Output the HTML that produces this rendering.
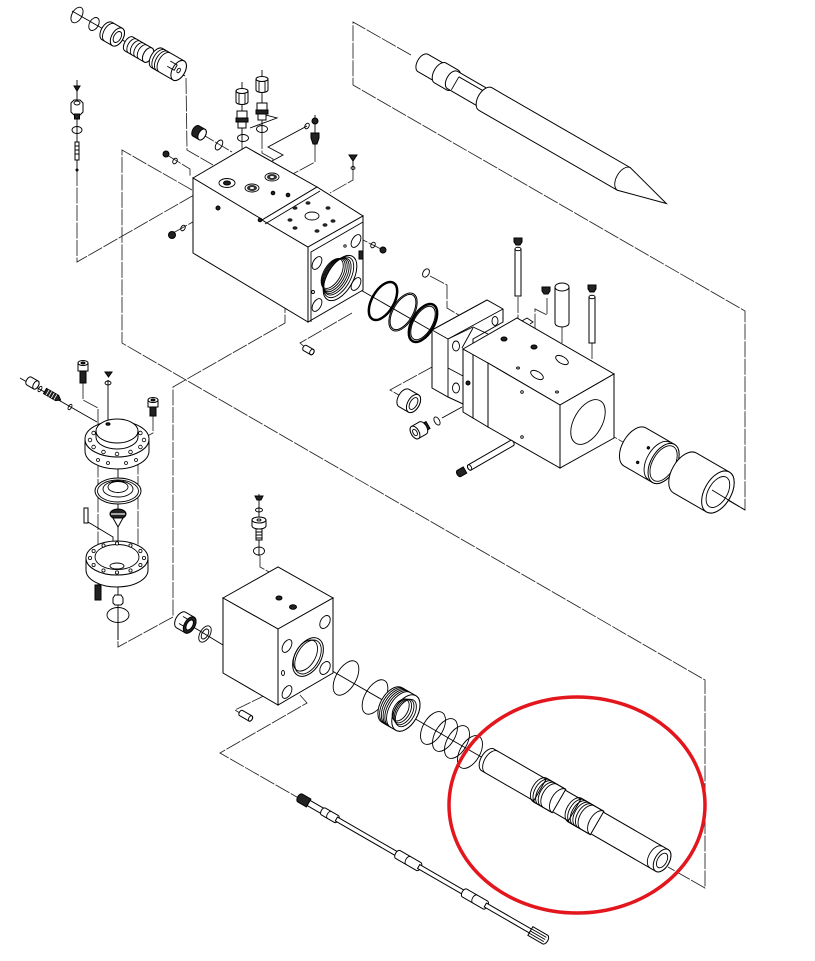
<!DOCTYPE html>
<html><head><meta charset="utf-8"><style>
html,body{margin:0;padding:0;background:#fff;width:815px;height:961px;overflow:hidden}
svg{display:block}
.s{fill:#fff;stroke:#000;stroke-width:1}
.d{fill:none;stroke:#222;stroke-width:0.85;stroke-dasharray:16 1.5}
.l{fill:none;stroke:#000;stroke-width:0.9}
.k{fill:#222;stroke:#000;stroke-width:1}
.r{fill:none;stroke:#000;stroke-width:2}
</style></head><body>
<svg width="815" height="961" viewBox="0 0 815 961" xmlns="http://www.w3.org/2000/svg">
<rect width="815" height="961" fill="#fff"/>

<!-- leader / frame lines -->
<polyline class="d" points="411,55 353,22 353,85 745,311 745,510 717,494"/>
<polyline class="d" points="186,78 187,150 213,165"/>
<polyline class="d" points="77,170 77,262 208,187"/>
<polyline class="d" points="192,190 122,150 122,343 705,680 705,888 668,867"/>
<polyline class="d" points="285,227 285,323 173,387 173,617 118,647 118,622"/>
<polyline class="d" points="352,313 300,343 308,350"/>
<polyline class="d" points="260,556 260,567 293,585 293,607"/>
<polyline class="d" points="282,687 235,710 243,715"/>
<polyline class="d" points="300,695 307,703 220,753 302,800"/>
<polyline class="d" points="463,350 390,390 404,398"/>
<polyline class="d" points="430,276 447,285 447,308 462,317"/>
<polyline class="d" points="518,297 518,368"/>
<polyline class="d" points="592,343 592,360 557,380 557,392"/>
<polyline class="d" points="547,298 547,315 535,309 535,347"/>
<polyline class="d" points="562,327 562,360"/>
<polyline class="d" points="522,392 517,395 517,440 522,437"/>
<line class="d" x1="588" y1="422" x2="635" y2="449"/>
<polyline class="d" points="242,143 242,163 253,170 253,182"/>
<polyline class="d" points="262,133 262,153 273,159 273,173"/>
<polyline class="d" points="315,146 315,162 278,182"/>
<polyline class="d" points="353,170 353,180 330,193"/>
<line class="d" x1="383" y1="250" x2="363" y2="240"/>
<polyline class="d" points="173,233 218,208 237,235 263,220"/>
<polyline class="d" points="200,133 232,152"/>
<polyline class="d" points="167,155 190,169 190,177"/>
<polyline class="l" points="307,126 268,147 283,155 272,161"/>
<polyline class="l" points="258,113 277,118 250,128"/>
<polyline class="l" points="20,378 97,422"/>
<polyline class="d" points="83,383 83,400 98,408 98,590"/>
<line class="l" x1="108" y1="380" x2="108" y2="423"/>
<polyline class="d" points="153,415 153,433 138,441 138,580"/>
<line class="l" x1="118" y1="455" x2="118" y2="640"/>
<polyline class="l" points="88,522 113,537 113,570"/>
<line class="l" x1="442" y1="418" x2="462" y2="407"/>
<line class="l" x1="190" y1="625" x2="223" y2="645"/>
<line class="l" x1="345" y1="281" x2="432" y2="331"/>
<line class="l" x1="308" y1="657" x2="490" y2="762"/>
<line class="l" x1="72" y1="11" x2="185" y2="76"/>
<line class="l" x1="77" y1="80" x2="77" y2="170"/>
<line class="l" x1="242" y1="82" x2="242" y2="143"/>
<line class="l" x1="262" y1="70" x2="262" y2="133"/>
<line class="l" x1="259" y1="494" x2="259" y2="556"/>
<line class="l" x1="315" y1="115" x2="315" y2="146"/>
<line class="l" x1="353" y1="155" x2="353" y2="170"/>

<!-- chisel -->
<g transform="translate(423,63) rotate(30)">
 <path class="s" d="M0,-10 H20 A5.8,10 0 0 1 20,10 H0 A5.8,10 0 0 1 0,-10 Z"/>
 <path class="s" d="M20,-11.5 H34 A6.6,11.5 0 0 1 34,11.5 H20 A6.6,11.5 0 0 1 20,-11.5 Z"/>
 <path class="s" d="M34,-10 H72 A5.8,10 0 0 1 72,10 H34 A5.8,10 0 0 1 34,-10 Z"/>
 <path class="l" d="M38,-6 V9 M38,-6 H72"/>
 <path class="s" d="M72,-13 H232 L281,0 L232,13 H72 A7.5,13 0 0 1 72,-13 Z"/>
 <path class="l" d="M232,-13 A7.5,13 0 0 0 232,13"/>
</g>

<!-- top-left fitting -->
<ellipse class="l" transform="translate(77,15) rotate(30)" rx="5" ry="8.5" stroke-width="1.7"/>
<ellipse class="l" transform="translate(94,24) rotate(30)" rx="4.5" ry="7" stroke-width="1.5"/>
<g transform="translate(107,31) rotate(30)">
 <path class="s" d="M0,-10 H12 A5.8,10 0 0 1 12,10 H0 A5.8,10 0 0 1 0,-10Z" stroke-width="1.4"/>
 <path class="l" d="M3,-10 A5.8,10 0 0 0 3,10" stroke-width="2"/>
 <ellipse class="s" cx="12" rx="5.8" ry="10" stroke-width="2"/>
 <ellipse class="l" cx="12" rx="3.5" ry="6"/>
</g>
<g transform="translate(129,44) rotate(30)">
 <path class="s" d="M0,-8 H22 A4.6,8 0 0 1 22,8 H0 A4.6,8 0 0 1 0,-8Z"/>
 <path class="l" d="M4,-8 A4.6,8 0 0 0 4,8 M8,-8 A4.6,8 0 0 0 8,8 M12,-8 A4.6,8 0 0 0 12,8 M16,-8 A4.6,8 0 0 0 16,8" stroke-width="1.3"/>
 <ellipse class="s" cx="22" rx="4.6" ry="8"/>
</g>
<g transform="translate(157,58) rotate(30)">
 <path class="s" d="M0,-11 H25 A6.3,11 0 0 1 25,11 H0 A6.3,11 0 0 1 0,-11Z" stroke-width="1.2"/>
 <path class="l" d="M3,-11 A6.3,11 0 0 0 3,11 M6,-11 A6.3,11 0 0 0 6,11 M9,-11 A6.3,11 0 0 0 9,11" stroke-width="1.6"/>
 <ellipse class="s" cx="25" rx="6.3" ry="11"/>
 <ellipse class="l" cx="25" rx="1.5" ry="2.5"/>
 <path class="l" d="M13,-4 H21 V2 H13"/>
</g>

<!-- left screw stack -->
<path class="k" d="M74,86 h6 l-3,5 z"/>
<path class="s" d="M71,103 L74,100 H80 L83,103 V112 L80,115 H74 L71,112 Z"/>
<ellipse class="l" cx="77" cy="103" rx="3" ry="2"/>
<rect class="k" x="74.5" y="114" width="5" height="5"/>
<ellipse class="l" cx="77" cy="130" rx="5" ry="3.5" stroke-width="1.4"/>
<rect class="s" x="75" y="142" width="4" height="18"/>
<path class="l" d="M75,146 h4 M75,150 h4 M75,154 h4"/>
<circle class="k" cx="77" cy="170" r="1"/>

<!-- upper fittings -->
<path class="s" d="M236,91 V102 A6,2.5 0 0 0 248,102 V91 Z"/>
<ellipse class="s" cx="242" cy="91" rx="6" ry="2.5"/>
<path class="l" d="M239,93 V104 M245,93 V104"/>
<path class="s" d="M256,79 V90 A6,2.5 0 0 0 268,90 V79 Z"/>
<ellipse class="s" cx="262" cy="79" rx="6" ry="2.5"/>
<path class="l" d="M259,81 V92 M265,81 V92"/>
<rect class="s" x="237" y="111" width="10" height="7"/>
<rect class="k" x="236" y="118" width="12" height="4"/>
<rect class="s" x="238" y="122" width="8" height="6"/>
<rect class="s" x="257" y="103" width="10" height="7"/>
<rect class="k" x="256" y="110" width="12" height="4"/>
<rect class="s" x="258" y="114" width="8" height="6"/>
<ellipse class="l" cx="243" cy="138" rx="5.5" ry="3.5" stroke-width="1.6"/>
<ellipse class="l" cx="262" cy="129" rx="5.5" ry="3.5" stroke-width="1.6"/>
<g transform="translate(196,131) rotate(30)">
 <path class="k" d="M0,-6 H7 A3.5,6 0 0 1 7,6 H0 A3.5,6 0 0 1 0,-6Z"/>
 <ellipse class="s" cx="7" rx="3.5" ry="6"/>
</g>
<ellipse class="l" transform="translate(219,145) rotate(30)" rx="3" ry="5.5" stroke-width="1.5"/>
<circle class="k" cx="166" cy="154" r="3"/>
<ellipse class="l" transform="translate(175,161) rotate(30)" rx="2" ry="3"/>
<circle class="k" cx="315" cy="121" r="3"/>
<ellipse class="l" transform="translate(307,126) rotate(30)" rx="2" ry="3"/>
<path class="k" d="M311,133 h8 v5 l-2,6 h-4 l-2,-6z"/>
<path class="k" d="M349,155 h8 l-4,6z"/>
<ellipse class="l" cx="353" cy="168" rx="2" ry="1.5"/>
<circle class="k" cx="383" cy="250" r="3"/>
<ellipse class="l" transform="translate(373,245) rotate(30)" rx="2" ry="3"/>
<circle class="k" cx="172" cy="235" r="3.5"/>
<ellipse class="l" transform="translate(183,228) rotate(30)" rx="2" ry="3"/>

<!-- upper block -->
<polygon class="s" points="193,178 246,147 317,187 262,220"/>
<polygon class="s" points="193,178 308,247 308,322 193,253"/>
<polygon class="s" points="262,220 317,187 363,216 308,247"/>
<polygon class="s" points="308,247 363,216 363,290 308,322"/>
<line class="l" x1="265" y1="224" x2="320" y2="191"/>
<polyline class="l" points="363,222 311,252 311,322"/>
<ellipse class="l" cx="227" cy="183" rx="8" ry="4.5"/>
<ellipse class="k" cx="227" cy="183" rx="3.5" ry="2"/>
<ellipse class="l" cx="252" cy="188" rx="7" ry="4"/>
<ellipse cx="252" cy="188" rx="5" ry="3" fill="#333"/>
<ellipse cx="252" cy="188" rx="2" ry="1" fill="#fff"/>
<ellipse class="l" cx="272" cy="177" rx="7" ry="4"/>
<ellipse cx="272" cy="177" rx="5" ry="3" fill="#333"/>
<ellipse cx="272" cy="177" rx="2" ry="1" fill="#fff"/>
<circle class="k" cx="273" cy="193" r="1.8"/>
<circle class="k" cx="288" cy="195" r="1.8"/>
<circle class="k" cx="218" cy="208" r="2"/>
<circle class="k" cx="260" cy="220" r="1.8"/>
<g fill="#222">
<ellipse cx="295" cy="208" rx="2.5" ry="1.8"/><ellipse cx="308" cy="203" rx="2.5" ry="1.8"/>
<ellipse cx="328" cy="208" rx="2.5" ry="1.8"/><ellipse cx="290" cy="220" rx="2.5" ry="1.8"/>
<ellipse cx="333" cy="221" rx="2.5" ry="1.8"/><ellipse cx="295" cy="228" rx="2.5" ry="1.8"/>
<ellipse cx="317" cy="231" rx="2.5" ry="1.8"/><ellipse cx="325" cy="225" rx="2.5" ry="1.8"/>
</g>
<ellipse class="l" cx="312" cy="216" rx="7" ry="4"/>
<g transform="translate(340,278) rotate(30)">
 <ellipse class="s" rx="13" ry="25" stroke-width="1.4"/>
 <ellipse class="l" cx="-1.5" rx="11.5" ry="22.5"/>
 <ellipse class="l" cx="-3" rx="10.5" ry="20.5"/>
 <ellipse class="l" cx="-4.5" rx="10" ry="19.5"/>
 <ellipse class="l" cx="-6" rx="9.5" ry="18.5"/>
 <ellipse class="l" cx="-7.5" rx="9" ry="17.5"/>
 <ellipse class="l" cx="-9" rx="8.5" ry="16.5"/>
</g>
<ellipse class="l" transform="translate(317,263) rotate(30)" rx="4" ry="7"/>
<ellipse class="l" transform="translate(356,241) rotate(30)" rx="4" ry="7"/>
<ellipse class="l" transform="translate(317,305) rotate(30)" rx="4" ry="7"/>
<ellipse class="l" transform="translate(356,284) rotate(30)" rx="4" ry="7"/>
<circle class="l" cx="313" cy="292" r="1.5"/>
<circle class="l" cx="345" cy="246" r="1.2"/>
<rect class="k" x="359" y="251" width="4" height="8"/>
<g transform="translate(305,348) rotate(30)">
 <path class="s" d="M0,-3 H8 A2,3 0 0 1 8,3 H0 A2,3 0 0 1 0,-3Z"/>
 <ellipse class="l" cx="8" rx="2" ry="3"/>
</g>

<!-- rings upper -->
<ellipse transform="translate(383,301) rotate(30)" rx="11" ry="21" fill="none" stroke="#000" stroke-width="2.5"/>
<ellipse transform="translate(403,312) rotate(30)" rx="11" ry="21" fill="none" stroke="#000" stroke-width="1"/>
<ellipse transform="translate(403,312) rotate(30)" rx="9.8" ry="19.5" fill="none" stroke="#000" stroke-width="1"/>
<ellipse transform="translate(423,323) rotate(30)" rx="11" ry="21" fill="none" stroke="#000" stroke-width="2.5"/>
<ellipse transform="translate(423,323) rotate(30)" rx="9.3" ry="18.5" fill="none" stroke="#000" stroke-width="1"/>
<ellipse class="l" transform="translate(426,273) rotate(30)" rx="3" ry="4.5" stroke-width="1.2"/>

<!-- yoke -->
<polygon class="s" points="432,330 487,300 503,309 503,322 473,339 473,354 463,349 463,404 448,397 432,388"/>
<polyline class="l" points="432,330 448,339 503,309"/>
<line class="l" x1="448" y1="339" x2="448" y2="397"/>
<polyline class="l" points="448,339 473,327 488,334"/>
<line class="l" x1="462" y1="348" x2="473" y2="328"/>
<line class="l" x1="448" y1="368" x2="463" y2="376"/>
<ellipse class="l" cx="456" cy="346" rx="3.5" ry="5"/>
<ellipse class="l" cx="456" cy="388" rx="3.5" ry="5"/>
<ellipse class="l" cx="495" cy="321" rx="3" ry="4.5"/>

<!-- middle block -->
<polygon class="s" points="463,349 473,354 473,418 463,412"/>
<polygon class="s" points="473,354 488,363 488,427 473,418"/>
<circle class="k" cx="468" cy="383" r="2"/>
<polygon class="s" points="463,349 517,318 614,374 560,405 488,363"/>
<polygon class="s" points="488,363 560,405 560,468 488,427"/>
<polygon class="s" points="560,405 614,374 614,438 560,468"/>
<polyline class="l" points="522,321 527,318 533,322 530,324"/>
<ellipse class="l" transform="translate(588,422) rotate(30)" rx="14" ry="24.5"/>
<ellipse class="k" cx="504" cy="339" rx="3" ry="2"/>
<ellipse class="k" cx="534" cy="347" rx="3" ry="2"/>
<ellipse class="l" cx="518" cy="368" rx="1.5" ry="1"/>
<ellipse class="l" cx="557" cy="392" rx="1.5" ry="1"/>
<ellipse class="l" transform="translate(562,360) rotate(30)" rx="7" ry="3.5"/>
<ellipse class="l" transform="translate(537,375) rotate(30)" rx="7" ry="3.5"/>
<circle class="l" cx="522" cy="392" r="1.3"/>
<circle class="l" cx="522" cy="437" r="1.3"/>

<!-- pins -->
<rect class="s" x="515" y="249" width="6" height="47"/>
<ellipse class="s" cx="518" cy="249" rx="3" ry="1.7"/>
<path class="k" d="M514,238 h8 v4 l-2,3 h-4 l-2,-3z"/>
<rect class="s" x="589" y="297" width="6" height="46"/>
<ellipse class="s" cx="592" cy="297" rx="3" ry="1.7"/>
<path class="k" d="M588,285 h8 v4 l-2,3 h-4 l-2,-3z"/>
<path class="k" d="M542,287 h8 v4 l-2,3 h-4 l-2,-3z"/>
<path class="s" d="M555,287 V323 A7,4 0 0 0 569,323 V287 Z"/>
<ellipse class="s" cx="562" cy="287" rx="7" ry="4"/>

<!-- bushings right -->
<g transform="translate(635,447) rotate(30)">
 <path class="s" d="M0,-22 H33 A12.7,22 0 0 1 33,22 H0 A12.7,22 0 0 1 0,-22Z"/>
 <path class="l" d="M28,-21.5 A12.4,21.5 0 0 0 28,21.5"/>
 <ellipse class="s" cx="33" rx="12.7" ry="22"/>
 <ellipse class="l" cx="33" rx="11" ry="19.5"/>
 <circle class="k" cx="12" cy="-6" r="1.2"/>
 <circle class="k" cx="10" cy="12" r="1.2"/>
</g>
<g transform="translate(685,473) rotate(30)">
 <path class="s" d="M0,-23 H38 A13.3,23 0 0 1 38,23 H0 A13.3,23 0 0 1 0,-23Z"/>
 <ellipse class="s" cx="38" rx="13.3" ry="23"/>
 <ellipse class="l" cx="38" rx="9.5" ry="17"/>
</g>
<line class="l" x1="712" y1="490" x2="745" y2="510"/>

<!-- middle small parts -->
<g transform="translate(404,398) rotate(30)">
 <path class="s" d="M0,-10 H11 A5.8,10 0 0 1 11,10 H0 A5.8,10 0 0 1 0,-10Z"/>
 <ellipse class="s" cx="11" rx="5.8" ry="10"/>
 <ellipse class="l" cx="11" rx="3.5" ry="6.5" stroke-width="1.5"/>
</g>
<g transform="translate(428,425) rotate(150)">
 <path class="k" d="M0,-4 H6 V4 H0 Z"/>
 <path class="s" d="M6,-7 H15 A4,7 0 0 1 15,7 H6 A4,7 0 0 1 6,-7Z"/>
 <ellipse class="s" cx="15" rx="4" ry="7"/>
 <ellipse class="l" cx="15" rx="2" ry="3.5"/>
</g>
<ellipse class="l" transform="translate(437,421) rotate(-30)" rx="2.5" ry="4.5" stroke-width="1.6"/>
<g transform="translate(512,443) rotate(150)">
 <path class="s" d="M0,-3 H49 A1.8,3 0 0 1 49,3 H0 A1.8,3 0 0 1 0,-3Z"/>
 <ellipse class="l" cx="49" rx="1.8" ry="3"/>
</g>
<g transform="translate(465,470) rotate(150)">
 <path class="k" d="M0,-3.5 H7 A2,3.5 0 0 1 7,3.5 H0Z"/>
</g>

<!-- left flange stack -->
<path class="s" d="M78,363 V371 H88 V363 Z"/>
<ellipse class="s" cx="83" cy="363" rx="5" ry="2.5"/>
<ellipse class="k" cx="83" cy="363" rx="2" ry="1"/>
<rect class="k" x="80" y="371" width="6" height="12"/>
<path class="s" d="M148,400 V407 H158 V400 Z"/>
<ellipse class="s" cx="153" cy="400" rx="5" ry="2.5"/>
<ellipse class="k" cx="153" cy="400" rx="2" ry="1"/>
<rect class="k" x="150" y="407" width="6" height="9"/>
<path class="k" d="M105,372 h7 l-3.5,5z"/>
<ellipse class="l" cx="108" cy="383" rx="3" ry="2"/>
<g transform="translate(29,381) rotate(30)">
 <path class="s" d="M0,-4.5 H8 A2.6,4.5 0 0 1 8,4.5 H0 A2.6,4.5 0 0 1 0,-4.5Z"/>
 <ellipse class="s" cx="8" rx="2.6" ry="4.5"/>
</g>
<ellipse class="l" transform="translate(40,389) rotate(30)" rx="1.5" ry="3" stroke-width="1.3"/>
<g transform="translate(45,391) rotate(30)">
 <path class="k" d="M0,-3 H14 L18,0 L14,3 H0Z"/>
 <path d="M3,-3 V3 M6,-3 V3 M9,-3 V3 M12,-3 V3" stroke="#fff" stroke-width="0.8"/>
</g>
<ellipse class="l" transform="translate(70,407) rotate(30)" rx="1.5" ry="3" stroke-width="1.3"/>

<path class="s" d="M85,439 A32,18 0 0 0 149,439 V451 A32,18 0 0 1 85,451 Z"/>
<ellipse class="s" cx="117" cy="439" rx="32" ry="18"/>
<g fill="#fff" stroke="#000" stroke-width="0.8">
<circle cx="144" cy="440" r="1.8"/><circle cx="140.4" cy="447" r="1.8"/><circle cx="130.5" cy="452" r="1.8"/>
<circle cx="117" cy="454" r="1.8"/><circle cx="103.5" cy="452" r="1.8"/><circle cx="93.6" cy="447" r="1.8"/>
<circle cx="90" cy="440" r="1.8"/><circle cx="93.6" cy="433" r="1.8"/><circle cx="140.4" cy="433" r="1.8"/>
<circle cx="98" cy="460" r="1.5"/><circle cx="108" cy="463" r="1.5"/><circle cx="126" cy="463" r="1.5"/><circle cx="136" cy="460" r="1.5"/>
</g>
<path class="s" d="M96,431 V437 A21,12 0 0 0 138,437 V431 Z"/>
<ellipse class="s" cx="117" cy="431" rx="21" ry="12"/>
<ellipse class="k" cx="108" cy="424" rx="2" ry="1.3"/>

<ellipse class="s" cx="118" cy="491" rx="23" ry="13" stroke-width="1.6"/>
<ellipse class="l" cx="118" cy="491" rx="20.5" ry="11"/>
<ellipse class="l" cx="118" cy="489" rx="15" ry="8"/>
<ellipse class="l" cx="118" cy="487" rx="10" ry="5.5"/>
<ellipse class="k" cx="118" cy="514" rx="8" ry="5"/>
<path d="M111,514 H125" stroke="#fff" stroke-width="1.2"/>
<path class="s" d="M113,518 L118,527 L123,518Z"/>

<path class="s" d="M86,558 A31,17 0 0 0 148,558 V570 A31,17 0 0 1 86,570 Z"/>
<ellipse class="s" cx="117" cy="558" rx="31" ry="17"/>
<ellipse class="l" cx="117" cy="557" rx="22" ry="12.5" stroke-width="2"/>
<g fill="#fff" stroke="#000" stroke-width="0.8">
<circle cx="144" cy="558" r="1.6"/><circle cx="140.4" cy="565" r="1.6"/><circle cx="130.5" cy="570.5" r="1.6"/>
<circle cx="117" cy="572.5" r="1.6"/><circle cx="103.5" cy="570.5" r="1.6"/><circle cx="93.6" cy="565" r="1.6"/>
<circle cx="90" cy="558" r="1.6"/><circle cx="93.6" cy="551" r="1.6"/><circle cx="103.5" cy="545.5" r="1.6"/>
<circle cx="117" cy="543.5" r="1.6"/><circle cx="130.5" cy="545.5" r="1.6"/><circle cx="140.4" cy="551" r="1.6"/>
</g>
<ellipse class="l" cx="117" cy="566" rx="7" ry="3"/>
<rect class="k" x="95" y="585" width="6" height="15"/>
<path class="s" d="M113,598 L115,595 H121 L123,598 V603 L121,605 H115 L113,603Z"/>
<ellipse class="l" cx="118" cy="615" rx="11" ry="7.5" stroke-width="2"/>
<path class="s" d="M84,508 h4 v15 h-4z"/>

<!-- lower block -->
<polygon class="s" points="223,598 278,567 333,598 278,629"/>
<polygon class="s" points="223,598 278,629 278,705 223,673"/>
<polygon class="s" points="278,629 333,598 333,673 278,705"/>
<ellipse class="k" cx="279" cy="598" rx="3" ry="2"/>
<ellipse class="k" cx="293" cy="607" rx="3.5" ry="2.3"/>
<ellipse class="l" transform="translate(325,622) rotate(30)" rx="4.5" ry="7"/>
<ellipse class="l" transform="translate(287,646) rotate(30)" rx="4" ry="7"/>
<ellipse class="l" transform="translate(325,668) rotate(30)" rx="4.5" ry="7"/>
<ellipse class="l" transform="translate(287,692) rotate(30)" rx="4" ry="7"/>
<ellipse class="l" cx="283" cy="673" rx="1.5" ry="2.5"/>
<g transform="translate(308,657) rotate(30)">
 <ellipse class="s" rx="13" ry="21" stroke-width="1.4"/>
 <ellipse class="l" rx="11" ry="18.5" stroke-width="2.2"/>
 <ellipse class="l" cx="-3" rx="10" ry="17"/>
</g>
<g transform="translate(181,620) rotate(30)">
 <path class="s" d="M0,-9 H10 A5.2,9 0 0 1 10,9 H0 A5.2,9 0 0 1 0,-9Z"/>
 <path class="l" d="M0,-4 H10 M0,4 H10"/>
 <ellipse class="k" cx="10" rx="5.2" ry="9"/>
 <ellipse class="s" cx="10" rx="3" ry="5.5"/>
</g>
<ellipse class="l" transform="translate(205,634) rotate(30)" rx="5" ry="9" stroke-width="1.3"/>
<ellipse class="l" transform="translate(205,634) rotate(30)" rx="3" ry="5.5"/>
<g transform="translate(241,713) rotate(30)">
 <path class="s" d="M0,-3 H11 A1.8,3 0 0 1 11,3 H0 A1.8,3 0 0 1 0,-3Z"/>
 <ellipse class="l" cx="11" rx="1.8" ry="3"/>
</g>
<path class="k" d="M255,496 h8 l-2,4 h-4z"/>
<ellipse class="l" cx="259" cy="510" rx="3.5" ry="2"/>
<path class="s" d="M252,520 V526 A7,3 0 0 0 266,526 V520 Z"/>
<ellipse class="s" cx="259" cy="520" rx="7" ry="3"/>
<ellipse class="l" cx="259" cy="520" rx="2" ry="1"/>
<rect class="s" x="256" y="529" width="6" height="11"/>
<path class="l" d="M256,532 h6 M256,535 h6 M256,538 h6"/>
<ellipse class="l" cx="259" cy="551" rx="5.5" ry="4" stroke-width="2"/>

<!-- lower rings -->
<ellipse class="l" transform="translate(346,678) rotate(30)" rx="10" ry="19" stroke-width="1.4"/>
<ellipse class="l" transform="translate(375,697) rotate(30)" rx="10" ry="19" stroke-width="1.4"/>
<g transform="translate(392,705) rotate(30)">
 <path class="s" d="M0,-20 H16 A11.5,20 0 0 1 16,20 H0 A11.5,20 0 0 1 0,-20Z" stroke-width="1.3"/>
 <path class="l" d="M2,-20 A11.5,20 0 0 0 2,20 M4,-20 A11.5,20 0 0 0 4,20 M6,-20 A11.5,20 0 0 0 6,20 M8,-20 A11.5,20 0 0 0 8,20 M10,-20 A11.5,20 0 0 0 10,20" stroke-width="1.1"/>
 <ellipse class="s" cx="16" rx="11.5" ry="20"/>
 <ellipse class="l" cx="16" rx="8.5" ry="15"/>
 <ellipse class="l" cx="14" rx="8" ry="14"/>
 <ellipse class="l" cx="12" rx="7.5" ry="13"/>
 <ellipse class="l" cx="10" rx="7" ry="12"/>
</g>
<ellipse class="l" transform="translate(433,728) rotate(30)" rx="10" ry="18" stroke-width="1.7"/>
<ellipse class="l" transform="translate(445,735) rotate(30)" rx="10" ry="18" stroke-width="1.7"/>
<ellipse class="l" transform="translate(457,742) rotate(30)" rx="10" ry="18" stroke-width="1.7"/>
<ellipse class="l" transform="translate(470,752) rotate(30)" rx="10" ry="18" stroke-width="1.7"/>

<!-- plunger -->
<g transform="translate(488,760) rotate(30)">
 <path class="s" d="M0,-12.5 H201 A7.2,12.5 0 0 1 201,12.5 H0 A7.2,12.5 0 0 1 0,-12.5Z"/>
 <path class="l" d="M4,-12.5 A7.2,12.5 0 0 0 4,12.5"/>
 <path class="s" d="M60,-13.5 H82 V13.5 H60 Z" stroke="none"/>
 <path class="l" d="M60,-13.5 H82 M60,13.5 H82"/>
 <path class="l" d="M60,-13.5 A7.8,13.5 0 0 0 60,13.5 M63,-13.5 A7.8,13.5 0 0 0 63,13.5 M66,-13.5 A7.8,13.5 0 0 0 66,13.5 M69,-13.5 A7.8,13.5 0 0 0 69,13.5 M72,-13.5 A7.8,13.5 0 0 0 72,13.5 M82,-13.5 A7.8,13.5 0 0 0 82,13.5"/>
 <path class="s" d="M100,-13.5 H126 V13.5 H100 Z" stroke="none"/>
 <path class="l" d="M100,-13.5 H126 M100,13.5 H126"/>
 <path class="l" d="M100,-13.5 A7.8,13.5 0 0 0 100,13.5 M103,-13.5 A7.8,13.5 0 0 0 103,13.5 M106,-13.5 A7.8,13.5 0 0 0 106,13.5 M109,-13.5 A7.8,13.5 0 0 0 109,13.5 M112,-13.5 A7.8,13.5 0 0 0 112,13.5 M115,-13.5 A7.8,13.5 0 0 0 115,13.5 M126,-13.5 A7.8,13.5 0 0 0 126,13.5"/>
 <path class="l" d="M194,-12.3 A7.1,12.3 0 0 0 194,12.3"/>
 <ellipse class="s" cx="201" rx="7.2" ry="12.5"/>
 <ellipse class="l" cx="201" rx="4.6" ry="8"/>
</g>

<!-- rod -->
<g transform="translate(300,798) rotate(30)">
 <path class="k" d="M0,-4.5 H10 V4.5 H0 A2.6,4.5 0 0 1 0,-4.5Z"/>
 <path class="s" d="M10,-3 H27 V3 H10Z"/>
 <path class="s" d="M27,-4 H42 A2.3,4 0 0 1 42,4 H27 A2.3,4 0 0 1 27,-4Z"/>
 <path class="l" d="M34,-4 A2.3,4 0 0 0 34,4"/>
 <path class="s" d="M42,-2.2 H113 V2.2 H42Z"/>
 <path class="s" d="M113,-4.5 H137 A2.6,4.5 0 0 1 137,4.5 H113 A2.6,4.5 0 0 1 113,-4.5Z"/>
 <path class="l" d="M125,-4.5 A2.6,4.5 0 0 0 125,4.5"/>
 <path class="s" d="M137,-2.2 H190 V2.2 H137Z"/>
 <path class="s" d="M190,-4.5 H214 A2.6,4.5 0 0 1 214,4.5 H190 A2.6,4.5 0 0 1 190,-4.5Z"/>
 <path class="l" d="M202,-4.5 A2.6,4.5 0 0 0 202,4.5"/>
 <path class="s" d="M214,-2.2 H266 V2.2 H214Z"/>
 <path class="s" d="M266,-5 H283 A2.9,5 0 0 1 283,5 H266 Z"/>
 <path class="l" d="M266,-2.5 H283 M266,0 H283 M266,2.5 H283"/>
</g>

<!-- red highlight -->
<ellipse cx="577" cy="805" rx="128" ry="108" fill="none" stroke="#e3161e" stroke-width="3.5"/>
</svg>
</body></html>
